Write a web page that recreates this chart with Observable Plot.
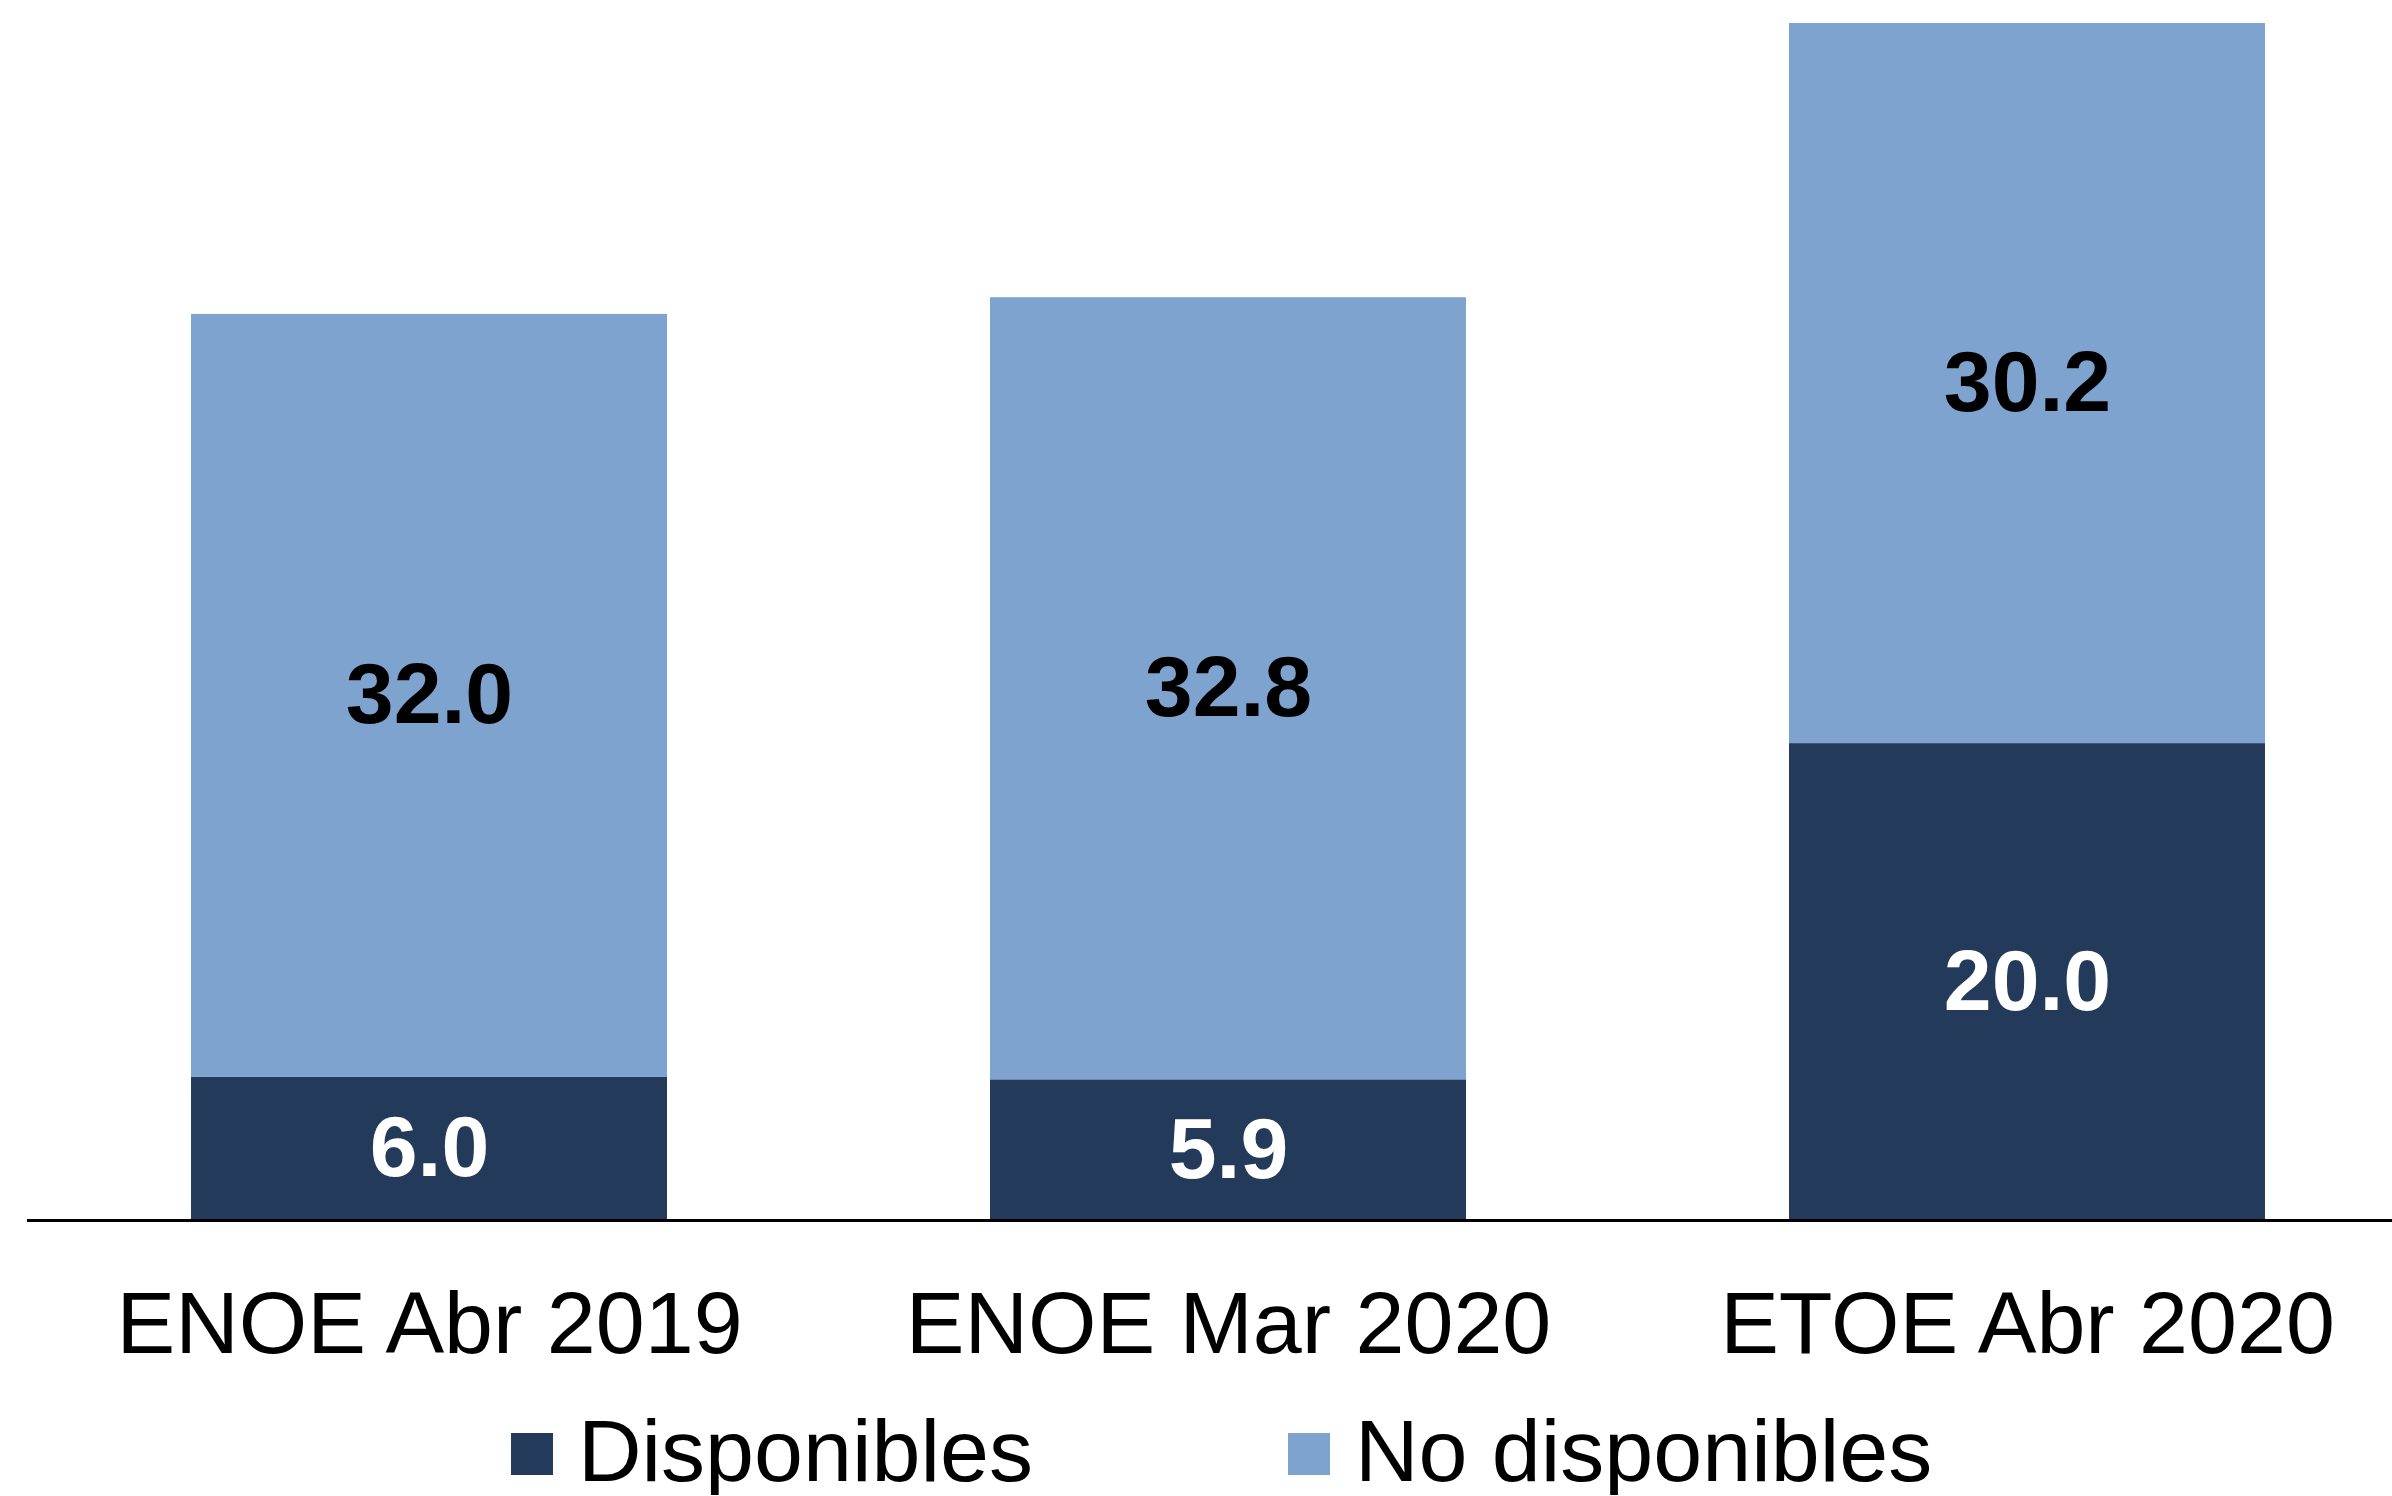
<!DOCTYPE html>
<html>
<head>
<meta charset="utf-8">
<script src="https://cdn.jsdelivr.net/npm/d3@7"></script>
<script src="https://cdn.jsdelivr.net/npm/@observablehq/plot@0.6"></script>
<style>
  body { margin: 0; background: #ffffff; font-family: "Liberation Sans", Arial, sans-serif; }
  #legend { display: flex; align-items: center; margin-top: 17px; padding-left: 511px; font-size: 88px; line-height: 1; color: #000; }
  .item { display: flex; align-items: center; margin-right: 255px; }
  .sw { width: 42px; height: 42px; margin-right: 25px; margin-top: 6px; }
</style>
</head>
<body>
<div id="chart"></div>
<div id="legend"></div>
<script>
const categories = ["ENOE Abr 2019", "ENOE Mar 2020", "ETOE Abr 2020"];
const series = ["Disponibles", "No disponibles"];
const disponibles = [6.0, 5.9, 20.0];
const noDisponibles = [32.0, 32.8, 30.2];
const colors = ["#233A5B", "#7EA3CF"];

const data = categories.flatMap((c, i) => [
  {cat: c, serie: series[0], value: disponibles[i]},
  {cat: c, serie: series[1], value: noDisponibles[i]}
]);

const chart = Plot.plot({
  width: 2392,
  height: 1390,
  marginTop: 23,
  marginBottom: 170,
  marginLeft: 27,
  marginRight: 0,
  style: {fontFamily: "'Liberation Sans', Arial, sans-serif", background: "#ffffff", color: "#000"},
  x: {domain: categories, range: [31, 2425], paddingInner: 0.404, paddingOuter: 0.2, label: null},
  y: {domain: [0, 50.2], axis: null},
  color: {domain: series, range: colors},
  marks: [
    Plot.barY(data, Plot.stackY({x: "cat", y: "value", fill: "serie"})),
    Plot.text(data, Plot.stackY({x: "cat", y: "value", z: "serie",
      text: d => d.serie === series[0] ? d.value.toFixed(1) : null,
      fill: "#ffffff", fontSize: 86, fontWeight: "bold"})),
    Plot.text(data, Plot.stackY({x: "cat", y: "value", z: "serie",
      text: d => d.serie === series[1] ? d.value.toFixed(1) : null,
      fill: "#000000", fontSize: 86, fontWeight: "bold"})),
    Plot.ruleY([0], {stroke: "#000", strokeWidth: 3}),
    Plot.axisX({tickSize: 0, tickPadding: 70, fontSize: 88, label: null, fill: "#000"})
  ]
});
document.getElementById("chart").appendChild(chart);

const legend = document.getElementById("legend");
series.forEach((s, i) => {
  const item = document.createElement("div");
  item.className = "item";
  const sw = document.createElement("div");
  sw.className = "sw";
  sw.style.background = colors[i];
  const t = document.createElement("span");
  t.textContent = s;
  item.appendChild(sw);
  item.appendChild(t);
  legend.appendChild(item);
});
</script>
</body>
</html>
